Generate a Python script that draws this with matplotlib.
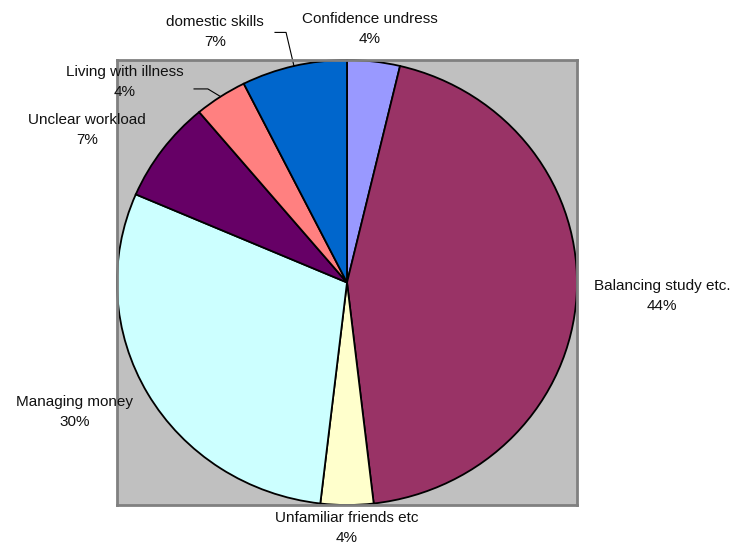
import numpy as np
import matplotlib
matplotlib.use("Agg")
import matplotlib.pyplot as plt

plt.rcParams['font.family'] = ['Liberation Sans', 'DejaVu Sans']

labels = ["Confidence undress", "Balancing study etc.", "Unfamiliar friends etc",
          "Managing money", "Unclear workload", "Living with illness", "domestic skills"]
counts = [1, 12, 1, 8, 2, 1, 2]
colors = ["#9999FF", "#993366", "#FFFFCC", "#CCFFFF", "#660066", "#FF8080", "#0066CC"]

# label centres (data units, radius 1 = pie edge)
label_pos = [(0.10, 1.14), (1.37, -0.06), (0.0, -1.105), (-1.183, -0.58),
             (-1.13, 0.685), (-0.965, 0.90), (-0.574, 1.125)]
# leader line elbows for the small labels that sit off their wedge
leaders = {5: [(-0.665, 0.87), (-0.605, 0.87)], 6: [(-0.313, 1.124), (-0.265, 1.124)]}

fig = plt.figure(figsize=(7.39, 5.49), dpi=100)
ax = fig.add_axes([117/739, 44/549, 460/739, 445/549])
ax.set_facecolor("#C0C0C0")

wedges, _ = ax.pie(counts, colors=colors, startangle=90, counterclock=False,
                   wedgeprops=dict(edgecolor="black", linewidth=1.3), radius=1, frame=True)
ax.set_aspect('auto')
ax.set_xlim(-1, 1)
ax.set_ylim(-1, 1)
ax.set_xticks([])
ax.set_yticks([])
for s in ax.spines.values():
    s.set_color("#808080")
    s.set_linewidth(2)

total = sum(counts)
for i, (lab, c) in enumerate(zip(labels, counts)):
    pct = round(100 * c / total)
    x, y = label_pos[i]
    ax.text(x, y, "%s\n%d%%" % (lab, pct), ha="center", va="center", fontsize=11,
            color="#111111", linespacing=1.55, clip_on=False)
    if i in leaders:
        w = wedges[i]
        mid = np.deg2rad((w.theta1 + w.theta2) / 2)
        pts = leaders[i] + [(np.cos(mid), np.sin(mid))]
        xs, ys = zip(*pts)
        ax.plot(xs, ys, color="black", linewidth=0.8, clip_on=False)

fig.savefig("out.png", dpi=100)
